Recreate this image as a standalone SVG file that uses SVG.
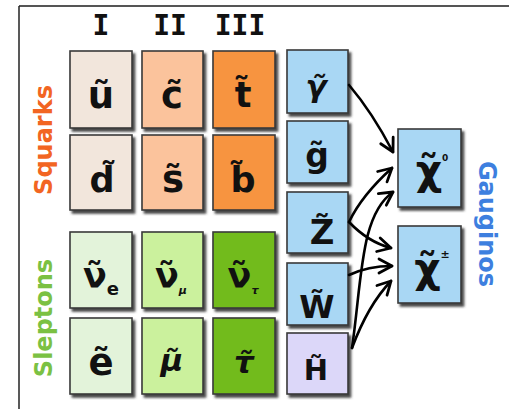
<svg xmlns="http://www.w3.org/2000/svg" width="509" height="409" viewBox="0 0 509 409">
  <defs>
    <filter id="shadow" x="-20%" y="-20%" width="150%" height="150%">
      <feDropShadow dx="2.5" dy="3" stdDeviation="1.3" flood-color="#2a2a2a" flood-opacity="0.85"/>
    </filter>
    <marker id="head" markerUnits="userSpaceOnUse" markerWidth="20" markerHeight="20" viewBox="-16 -10 20 20" refX="0" refY="0" orient="auto">
      <path d="M-13,-7 L0,0 L-13,7" fill="none" stroke="#000" stroke-width="2.8" stroke-linecap="round" stroke-linejoin="round"/>
    </marker>
    <style>
      .box { stroke: #3a3a3a; stroke-width: 1.6; filter: url(#shadow); }
      .q1 { fill: #f2e6dc; }
      .q2 { fill: #fbc39c; }
      .q3 { fill: #f7943f; }
      .l1 { fill: #e3f3da; }
      .l2 { fill: #cbf19d; }
      .l3 { fill: #72bb1f; }
      .g  { fill: #a9d7f4; }
      .h  { fill: #dcd7f9; }
      .sym { font-family: "DejaVu Sans", "Liberation Sans", sans-serif; font-weight: bold; fill: #111; text-anchor: middle; }
      .gen { font-family: "DejaVu Sans Mono", "Liberation Mono", monospace; font-weight: bold; font-size: 28px; fill: #111; text-anchor: middle; }
      .lab { font-family: "DejaVu Sans", "Liberation Sans", sans-serif; font-weight: bold; font-size: 24px; text-anchor: middle; }
      .arr { fill: none; stroke: #000; stroke-width: 2.6; stroke-linecap: round; marker-end: url(#head); }
    </style>
  </defs>

  <rect width="509" height="409" fill="#fff"/>

  <!-- frame -->
  <path d="M19,6 H509" stroke="#555" stroke-width="2"/>
  <path d="M19,6 V409" stroke="#222" stroke-width="1.5"/>

  <!-- generation headers -->
  <g id="generations">
    <text class="gen" x="101" y="35">I</text>
    <text class="gen" x="170" y="35">II</text>
    <text class="gen" x="240" y="35">III</text>
  </g>

  <!-- family labels -->
  <text class="lab" fill="#f26522" transform="translate(52,140) rotate(-90)">Squarks</text>
  <text class="lab" fill="#7bc143" transform="translate(52,318) rotate(-90)">Sleptons</text>
  <text class="lab" fill="#3d7fdf" transform="translate(479,224) rotate(90)">Gauginos</text>

  <!-- squarks -->
  <g id="sq-u">
    <rect class="box q1" x="70" y="51" width="62" height="77"/>
    <text class="sym" x="101" y="108" font-size="37">ũ</text>
  </g>
  <g id="sq-c">
    <rect class="box q2" x="142" y="51" width="61" height="77"/>
    <text class="sym" x="172" y="108" font-size="37">c̃</text>
  </g>
  <g id="sq-t">
    <rect class="box q3" x="213" y="51" width="62" height="77"/>
    <text class="sym" x="243" y="107" font-size="35">t̃</text>
  </g>
  <g id="sq-d">
    <rect class="box q1" x="70" y="135" width="62" height="75"/>
    <text class="sym" x="102" y="192" font-size="35">d̃</text>
  </g>
  <g id="sq-s">
    <rect class="box q2" x="142" y="135" width="61" height="75"/>
    <text class="sym" x="173" y="192" font-size="37">s̃</text>
  </g>
  <g id="sq-b">
    <rect class="box q3" x="213" y="135" width="62" height="75"/>
    <text class="sym" x="243" y="192" font-size="35">b̃</text>
  </g>

  <!-- sleptons -->
  <g id="sl-ve">
    <rect class="box l1" x="70" y="232" width="62" height="76"/>
    <text class="sym" x="101" y="288" font-size="35">ν̃<tspan font-size="18" dy="7">e</tspan></text>
  </g>
  <g id="sl-vm">
    <rect class="box l2" x="142" y="232" width="61" height="76"/>
    <text class="sym" x="171" y="288" font-size="35">ν̃<tspan font-size="11" font-style="italic" dy="6">μ</tspan></text>
  </g>
  <g id="sl-vt">
    <rect class="box l3" x="213" y="232" width="62" height="76"/>
    <text class="sym" x="243" y="288" font-size="35">ν̃<tspan font-size="11" font-style="italic" dy="6">τ</tspan></text>
  </g>
  <g id="sl-e">
    <rect class="box l1" x="70" y="318" width="62" height="76"/>
    <text class="sym" x="101" y="375" font-size="37">ẽ</text>
  </g>
  <g id="sl-mu">
    <rect class="box l2" x="142" y="318" width="61" height="76"/>
    <text class="sym" x="172" y="371" font-size="31" font-style="italic">μ̃</text>
  </g>
  <g id="sl-tau">
    <rect class="box l3" x="213" y="318" width="62" height="76"/>
    <text class="sym" x="244" y="373" font-size="31" font-style="italic">τ̃</text>
  </g>

  <!-- gauge and higgs superpartners -->
  <g id="ga-gamma">
    <rect class="box g" x="287" y="50" width="61" height="63"/>
    <text class="sym" x="316" y="97" font-size="31" font-style="italic">γ̃</text>
  </g>
  <g id="ga-g">
    <rect class="box g" x="287" y="121" width="61" height="62"/>
    <text class="sym" x="317" y="167" font-size="33">g̃</text>
  </g>
  <g id="ga-z">
    <rect class="box g" x="287" y="192" width="61" height="61"/>
    <text class="sym" x="322" y="244" font-size="34">Z̃</text>
  </g>
  <g id="ga-w">
    <rect class="box g" x="287" y="263" width="61" height="62"/>
    <text class="sym" x="317" y="318" font-size="32">W̃</text>
  </g>
  <g id="hi-h">
    <rect class="box h" x="287" y="333" width="61" height="61"/>
    <text class="sym" x="316" y="380" font-size="29">H̃</text>
  </g>

  <!-- mass eigenstates -->
  <g id="neutralino">
    <rect class="box g" x="398" y="129" width="63" height="78"/>
    <text class="sym" x="432" y="184" font-size="41">χ̃<tspan font-size="9" dy="-23">0</tspan></text>
  </g>
  <g id="chargino">
    <rect class="box g" x="398" y="226" width="63" height="77"/>
    <text class="sym" x="432" y="282" font-size="41">χ̃<tspan font-size="11" dy="-24">±</tspan></text>
  </g>

  <!-- mixing arrows -->
  <g id="connectors">
    <path class="arr" d="M349,85 Q372,112 393,152"/>
    <path class="arr" d="M349,222 Q362,195 392,168"/>
    <path class="arr" d="M349,222 Q368,242 391,248"/>
    <path class="arr" d="M349,275 Q368,266 392,266"/>
    <path class="arr" d="M352,348 C362,280 360,215 393,192"/>
    <path class="arr" d="M352,348 Q368,305 391,281"/>
  </g>
</svg>
